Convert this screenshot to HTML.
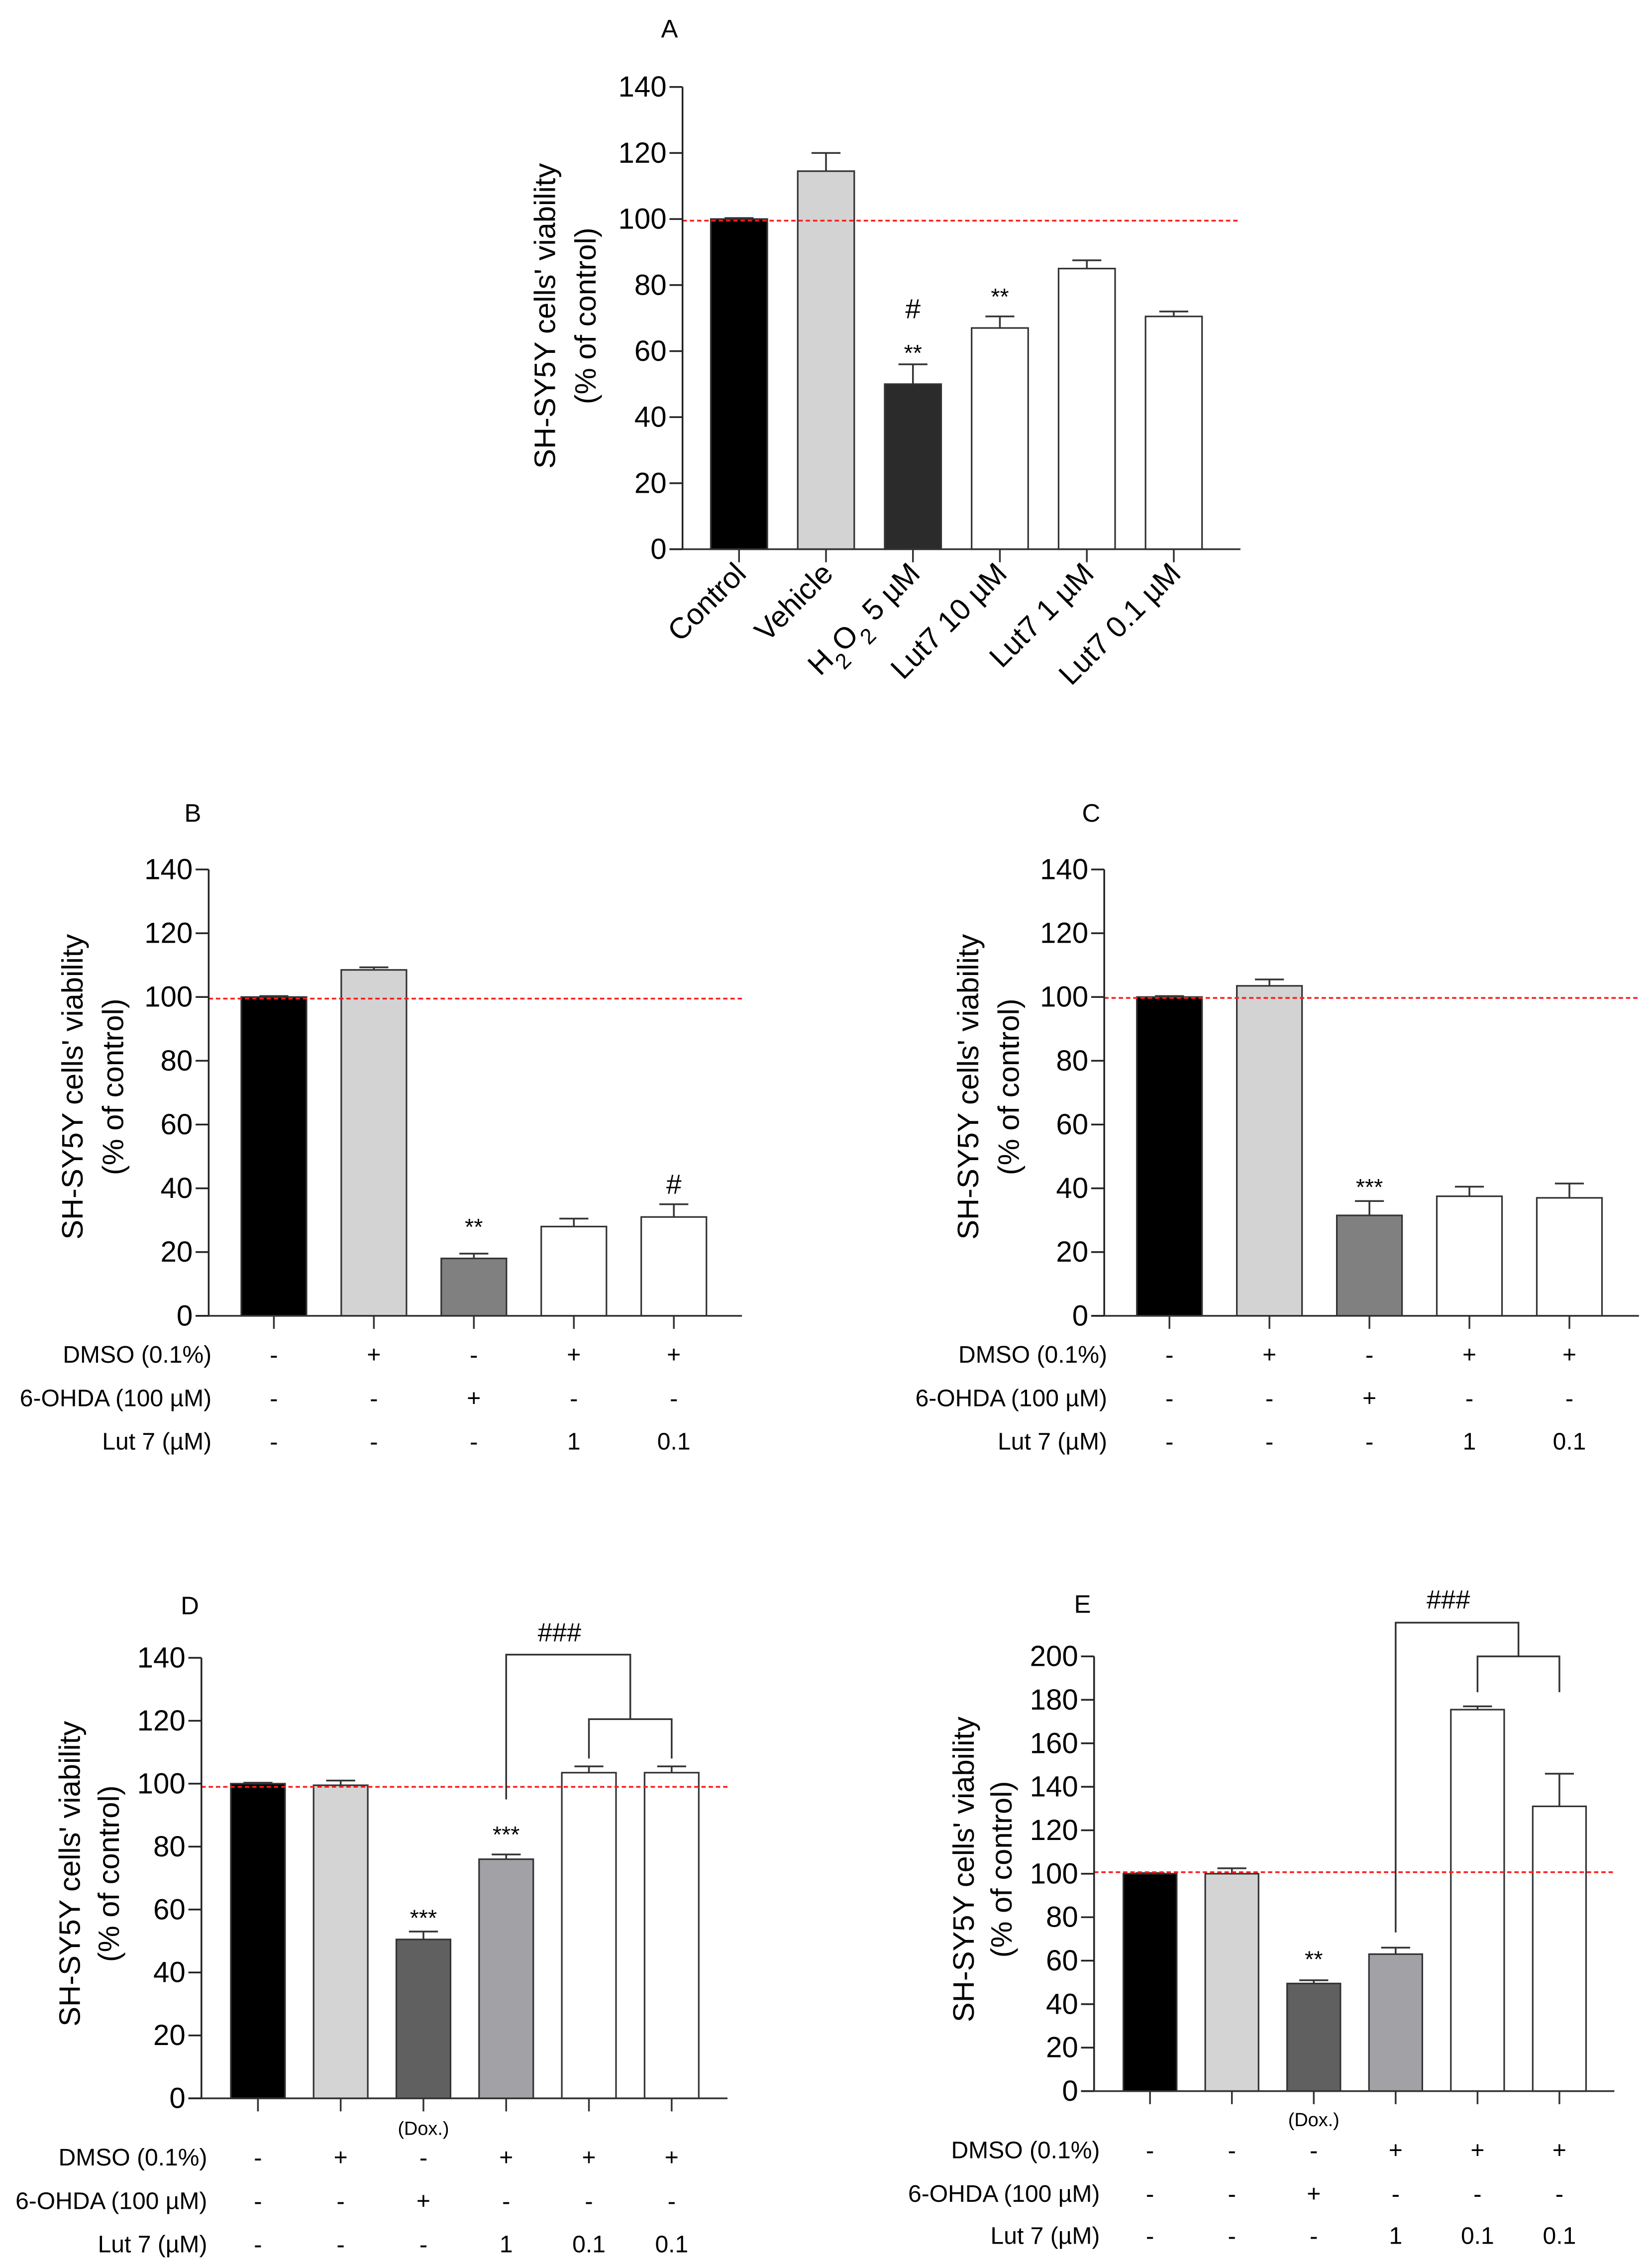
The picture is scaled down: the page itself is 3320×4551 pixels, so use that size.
<!DOCTYPE html>
<html><head><meta charset="utf-8">
<style>
html,body{margin:0;padding:0;background:#fff;}
svg{display:block;}
text{font-family:"Liberation Sans",Arial,sans-serif;fill:#000;}
</style></head>
<body>
<svg id="fig" xmlns="http://www.w3.org/2000/svg" width="3320" height="4551" viewBox="0 0 1140 1563" preserveAspectRatio="none">
<rect x="0" y="0" width="1140" height="1563" fill="#fff"/>
</svg>
<script>
// ---------- data ----------
const aLabels = ['Control','Vehicle','H2O2 5 µM','Lut7 10 µM','Lut7 1 µM','Lut7 0.1 µM'];
const aMeans = [100,114.5,50,67,85,70.5];
const aErrors = [0.3,5.5,6,3.5,2.5,1.5];
const bMeans = [100,108.5,18,28,31];
const bErrors = [0.3,0.8,1.5,2.5,4];
const cMeans = [100,103.5,31.5,37.5,37];
const cErrors = [0.3,2,4.5,3,4.5];
const dMeans = [100,99.5,50.5,76,103.5,103.5];
const dErrors = [0.3,1.5,2.5,1.5,2,2];
const eMeans = [100,100,49.5,63,175.5,131];
const eErrors = [0.3,2.5,1.5,3,1.5,15];
const ticks140 = [0,20,40,60,80,100,120,140];
const ticks200 = [0,20,40,60,80,100,120,140,160,180,200];
const bcDmso = ['-','+','-','+','+'];
const bcOhda = ['-','-','+','-','-'];
const bcLut = ['-','-','-','1','0.1'];
const dDmso = ['-','+','-','+','+','+'];
const eDmso = ['-','-','-','+','+','+'];
const deOhda = ['-','-','+','-','-','-'];
const deLut = ['-','-','-','1','0.1','0.1'];
const rowNames = ['DMSO (0.1%)','6-OHDA (100 µM)','Lut 7 (µM)'];

const NS='http://www.w3.org/2000/svg';
const svg=document.getElementById('fig');
function mk(tag, attrs, parent){
  const e=document.createElementNS(NS,tag);
  for(const k in attrs) e.setAttribute(k,attrs[k]);
  (parent||svg).appendChild(e);
  return e;
}

function drawPanel(p){
  const g=mk('g',{});
  
  
  const Y=v=>p.y0-(v/p.yMax)*(p.y0-p.yTop);
  const X=i=>p.cx0+i*p.dx;
  const t=mk('text',{x:p.letterX,y:p.letterY,'font-size':17.5,'text-anchor':'middle'},g);
  t.textContent=p.id.toUpperCase();
  
  
  const yt1=mk('text',{x:0,y:0,'font-size':20.5,'text-anchor':'middle','dominant-baseline':'central',transform:`translate(${p.t1x},${p.tcy}) rotate(-90)`},g);
  yt1.textContent="SH-SY5Y cells' viability";
  
  
  const yt2=mk('text',{x:0,y:0,'font-size':20.5,'text-anchor':'middle','dominant-baseline':'central',transform:`translate(${p.t2x},${p.tcy}) rotate(-90)`},g);
  yt2.textContent="(% of control)";
  
  
  p.means.forEach((m,i)=>{
    const r=mk('rect',{x:X(i)-p.w/2,y:Y(m),width:p.w,height:p.y0-Y(m),fill:p.colors[i],stroke:'#333','stroke-width':1.1},g);
    
    
    const e=p.errs[i];
    const el=mk('path',{d:`M${X(i)},${Y(m)} V${Y(m+e)} M${X(i)-10},${Y(m+e)} H${X(i)+10}`,stroke:'#333','stroke-width':1.2,fill:'none'},g);
    
    
  });
  const rl=mk('line',{x1:p.ax,x2:p.xEnd,y1:Y(p.ref),y2:Y(p.ref),stroke:'#ff1a1a','stroke-width':1.2,'stroke-dasharray':'3,2'},g);
  
  
  const ya=mk('line',{x1:p.ax,x2:p.ax,y1:p.y0,y2:p.yTop,stroke:'#222','stroke-width':1.2},g);
  
  
  const xa=mk('line',{x1:p.ax-9,x2:p.xEnd,y1:p.y0,y2:p.y0,stroke:'#333','stroke-width':1.2},g);
  
  
  p.ticks.forEach(v=>{
    const tk=mk('line',{x1:p.ax-9,x2:p.ax,y1:Y(v),y2:Y(v),stroke:'#222','stroke-width':1.2},g);
    
    
    const tl=mk('text',{x:p.ax-11,y:Y(v),'font-size':20,'text-anchor':'end','dominant-baseline':'central'},g);
    tl.textContent=String(v);
    
    
  });
  p.means.forEach((m,i)=>{
    const tk=mk('line',{x1:X(i),x2:X(i),y1:p.y0,y2:p.y0+9,stroke:'#333','stroke-width':1.2},g);
    
    
  });
  (p.annots||[]).forEach(a=>{
    const at=mk('text',{x:X(a.i),y:Y(a.v)+(a.s==='#'?7:9),'font-size':a.s==='#'?19:16,'text-anchor':'middle'},g);
    at.textContent=a.s;
    
    
  });
  if(p.rows){
    p.rows.forEach((row,ri)=>{
      const lab=mk('text',{x:p.labX,y:p.rowY[ri],'font-size':16.5,'text-anchor':'end','dominant-baseline':'central'},g);
      lab.textContent=rowNames[ri];
      
      
      row.forEach((s,i)=>{
        const c=mk('text',{x:X(i),y:p.rowY[ri],'font-size':s==='-'?17:16.5,'text-anchor':'middle','dominant-baseline':'central'},g);
        c.textContent=s;
        
        
      });
    });
  }
  if(p.dox!==undefined){
    const dx=mk('text',{x:X(p.dox),y:p.doxY,'font-size':13,'text-anchor':'middle','dominant-baseline':'central'},g);
    dx.textContent='(Dox.)';
    
    
  }
  if(p.bracket){
    const b=p.bracket;
    const mid=(X(4)+X(5))/2;
    const br=mk('path',{d:`M${X(3)},${Y(b.leftLow)} V${Y(b.top)} H${mid} V${Y(b.mid)} M${X(4)},${Y(b.low)} V${Y(b.mid)} H${X(5)} V${Y(b.low)}`,stroke:'#333','stroke-width':1.2,fill:'none'},g);
    
    
    const bt=mk('text',{x:(X(3)+mid)/2-6,y:Y(b.label)+6,'font-size':18,'text-anchor':'middle'},g);
    bt.textContent='###';
    
    
  }
  return {g,X};
}

const pa=drawPanel({id:'a',ax:471,xEnd:856,y0:379,yTop:60,yMax:140,cx0:510,dx:60,w:39,
  means:aMeans,errs:aErrors,colors:['#000','#d3d3d3','#2b2b2b','#fff','#fff','#fff'],ref:99.5,ticks:ticks140,
  letterX:462,letterY:26,t1x:376,t2x:404,tcy:218,
  annots:[{i:2,v:61,s:'**'},{i:2,v:73,s:'#'},{i:3,v:78,s:'**'}]});
aLabels.forEach((l,i)=>{
  const x=pa.X(i)+6, y=397;
  const tx=mk('text',{x:x,y:y,'font-size':20.5,'text-anchor':'end',transform:`rotate(-45 ${x} ${y})`},pa.g);
  if(l.indexOf('H2O2')===0){
    const s1=mk('tspan',{},tx); s1.textContent='H';
    const s2=mk('tspan',{'baseline-shift':'sub','font-size':15},tx); s2.textContent='2';
    const s3=mk('tspan',{},tx); s3.textContent='O';
    const s4=mk('tspan',{'baseline-shift':'sub','font-size':15},tx); s4.textContent='2';
    const s5=mk('tspan',{},tx); s5.textContent=' 5 µM';
  } else tx.textContent=l;
  
  
});

drawPanel({id:'b',ax:144,xEnd:512,y0:908,yTop:600,yMax:140,cx0:189,dx:69,w:45,
  means:bMeans,errs:bErrors,colors:['#000','#d3d3d3','#808080','#fff','#fff'],ref:99.5,ticks:ticks140,
  letterX:133,letterY:567,t1x:50,t2x:78,tcy:750,
  annots:[{i:2,v:29.5,s:'**'},{i:4,v:41.5,s:'#'}],
  rows:[bcDmso,bcOhda,bcLut],rowY:[935,965,995],labX:146});

drawPanel({id:'c',ax:762,xEnd:1131,y0:908,yTop:600,yMax:140,cx0:807,dx:69,w:45,
  means:cMeans,errs:cErrors,colors:['#000','#d3d3d3','#808080','#fff','#fff'],ref:99.7,ticks:ticks140,
  letterX:753,letterY:567,t1x:668,t2x:696,tcy:750,
  annots:[{i:2,v:42,s:'***'}],
  rows:[bcDmso,bcOhda,bcLut],rowY:[935,965,995],labX:764});

drawPanel({id:'d',ax:139,xEnd:502,y0:1448,yTop:1144,yMax:140,cx0:178,dx:57.1,w:37.4,
  means:dMeans,errs:dErrors,colors:['#000','#d4d4d4','#606060','#a2a1a6','#fff','#fff'],ref:99,ticks:ticks140,
  letterX:131,letterY:1114,t1x:48,t2x:75,tcy:1293,
  annots:[{i:2,v:59,s:'***'},{i:3,v:85.5,s:'***'}],
  rows:[dDmso,deOhda,deLut],rowY:[1489,1519,1549],labX:143,dox:2,doxY:1469,
  bracket:{leftLow:95,top:141,mid:120.5,low:108,label:148}});

drawPanel({id:'e',ax:755,xEnd:1114,y0:1443,yTop:1143,yMax:200,cx0:793.6,dx:56.5,w:36.8,
  means:eMeans,errs:eErrors,colors:['#000','#d4d4d4','#606060','#a2a1a6','#fff','#fff'],ref:100.7,ticks:ticks200,
  letterX:747,letterY:1113,t1x:665,t2x:691,tcy:1290,
  annots:[{i:2,v:63,s:'**'}],
  rows:[eDmso,deOhda,deLut],rowY:[1484,1514,1543],labX:759,dox:2,doxY:1463,
  bracket:{leftLow:73,top:215.5,mid:200,low:183.5,label:226}});
</script>
</body></html>
